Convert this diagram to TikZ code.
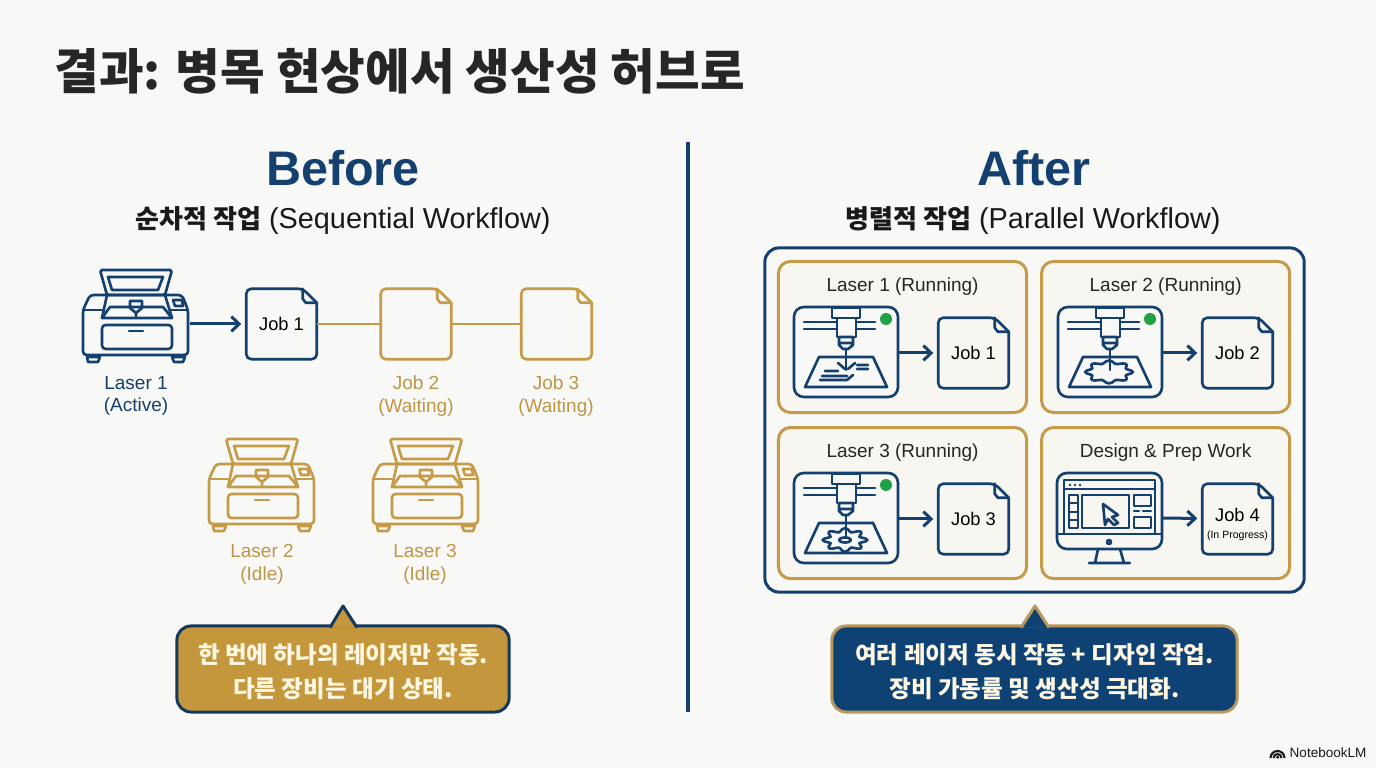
\documentclass[tikz,border=0pt]{standalone}
\usepackage{fontspec}
\setmainfont{Liberation Sans}
\newfontfamily\krfont{Noto Sans CJK KR}
\usetikzlibrary{arrows.meta, positioning, calc}
\definecolor{pagebg}{RGB}{248, 248, 246}
\definecolor{shopnavy}{RGB}{20, 64, 111}
\definecolor{shopgold}{RGB}{198, 155, 72}
\definecolor{goldtext}{RGB}{190, 150, 72}
\definecolor{cardbg}{RGB}{247, 246, 241}
\definecolor{bubblegold}{RGB}{197, 151, 60}
\definecolor{bubblenavy}{RGB}{14, 66, 117}
\definecolor{bubbleedge}{RGB}{20, 57, 92}
\definecolor{bubbletrim}{RGB}{186, 152, 92}
\definecolor{bubbletext}{RGB}{255, 247, 226}
\definecolor{lampgreen}{RGB}{34, 160, 70}
\definecolor{titleink}{RGB}{38, 38, 38}

\tikzset{
    iconline/.style={line width=0.75pt, line join=round, line cap=round},
    % machine with its lid open
    pics/lasercutter/.style={code={
        \begin{scope}[iconline, draw=#1]
        \draw[rounded corners=0.5pt] (-36,-45) -- (36,-45) -- (29,-20) -- (-29,-20) -- cycle;
        \draw (-28,-38) -- (27,-38) -- (22,-25) -- (-24,-25) -- cycle;
        \draw[rounded corners=1pt] (-53,-5) -- (-46,-20) -- (46,-20) -- (52,-5) -- (52,40) -- (-53,40) -- cycle;
        \draw (-53,-5) -- (-34,-5) (35,-5) -- (52,-5);
        \draw (-34,3) -- (-26,-8) -- (27,-8) -- (36,3) -- cycle;
        \draw (-34,3) -- (-29,-20) (36,3) -- (29,-20);
        \draw (-6,-14) -- (6,-14) -- (6,-7) -- (0,-2) -- (-6,-7) -- cycle (0,-2) -- (0,1);
        \draw (37,-15) -- (46,-15) -- (47,-9) -- (39,-9) -- cycle;
        \draw[rounded corners=1pt] (-34,10) rectangle (36,34);
        \draw (-7,16) -- (7,16);
        \draw (-49,42) -- (-36,42) -- (-38,47) -- (-48,47) -- cycle;
        \draw (36,42) -- (49,42) -- (47,47) -- (38,47) -- cycle;
        \end{scope}
        \coordinate (-out) at (54,9);
    }},
    % head over the bed, the work on the bed comes from the pics below
    pics/cutterhead/.style={code={
        \begin{scope}[iconline, draw=shopnavy]
        \draw[rounded corners=2.8pt, fill=pagebg] (-52,-45) rectangle (52,45);
        \draw (-14,-44) rectangle (14,-34);
        \draw (-9,-34) rectangle (10,-15);
        \draw (-42,-30) -- (-9,-30) (-42,-23) -- (-9,-23);
        \draw (10,-30) -- (29,-30) (10,-23) -- (29,-23);
        \draw (-7,-15) -- (7,-15) -- (7,-7) -- (2,-3) -- (-3,-3) -- (-7,-7) -- cycle (-7,-9) -- (7,-9);
        \draw (-27,5) -- (27,5) -- (41,35) -- (-41,35) -- cycle;
        \end{scope}
        \fill[lampgreen] (40,-33) circle (6);
        \coordinate (-out) at (52,1);
    }},
    pics/worksketch/.style={code={
        \draw[iconline, shopnavy] (-21,19) -- (-8,19) (-24,24) -- (1,24) (-26,28) -- (1,28) -- (7,23);
        \draw[iconline, shopnavy] (11,13) -- (22,13) (11,17) -- (22,17) (-8,11) -- (-1,17) (9,11) -- (2,17);
        \draw[iconline, shopnavy] (0,-3) -- (0,18);
    }},
    pics/workblob/.style={code={
        \draw[iconline, shopnavy] plot[smooth cycle, domain=0:352.5, samples=48]
            ({-1+21*(1+.14*cos(8*\x))*cos(\x)}, {20+10*(1+.14*cos(8*\x))*sin(\x)});
        \draw[iconline, shopnavy] (0,-3) -- (0,18);
    }},
    pics/workgear/.style={code={
        \draw[iconline, shopnavy] plot[smooth cycle, domain=0:352.5, samples=48]
            ({-1+19*(1+.18*cos(8*\x))*cos(\x)}, {22+10*(1+.18*cos(8*\x))*sin(\x)});
        \draw[iconline, shopnavy] (-1,22) ellipse (6 and 2.5);
        \draw[iconline, shopnavy] (0,-3) -- (0,20);
    }},
    pics/designscreen/.style={code={
        \begin{scope}[iconline, draw=shopnavy]
        \draw[rounded corners=2.8pt] (-53,-45) rectangle (52,31);
        \draw (-53,16) -- (52,16);
        \draw (-46,-38) rectangle (45,16);
        \draw (-46,-29) -- (45,-29);
        \draw (-41,-23) rectangle (-32,10);
        \draw (-41,-15) -- (-32,-15) (-41,-6) -- (-32,-6) (-41,2) -- (-32,2);
        \draw (-28,-23) rectangle (19,10);
        \draw (24,-23) rectangle (41,-12);
        \draw (24,-7) -- (29,-7) (33,-7) -- (41,-7);
        \draw (24,-1) rectangle (41,10);
        \draw (-7,-14) -- (8,-3) -- (2,-1) -- (8,5) -- (4,7) -- (-2,1) -- (-5,7) -- cycle;
        \draw (-12,31) -- (-15,45) (10,31) -- (14,45) (-21,45) -- (20,45);
        \draw (-1,24) circle (2);
        \end{scope}
        \fill[shopnavy] (-40,-33) circle (1.4) (-35,-33) circle (1.4) (-30,-33) circle (1.4);
        \coordinate (-out) at (52,0);
    }},
    jobdoc/.style={minimum width=0.69cm, minimum height=0.69cm, inner sep=0pt, align=center,
        font=\fontsize{5.2}{6.4}\selectfont,
        append after command={\pgfextra{
            \draw[iconline, draw=#1, rounded corners=1.4pt]
                (\tikzlastnode.north west) -- ($(\tikzlastnode.north east)+(-14,0)$)
                [sharp corners] -- ($(\tikzlastnode.north east)+(0,14)$)
                [rounded corners=1.4pt] -- (\tikzlastnode.south east) -- (\tikzlastnode.south west) -- cycle;
            \draw[iconline, draw=#1] ($(\tikzlastnode.north east)+(-14,0)$) -- ($(\tikzlastnode.north east)+(-14,10)$)
                -- ($(\tikzlastnode.north east)+(-11,14)$) -- ($(\tikzlastnode.north east)+(0,14)$);
        }}},
    card/.style={rectangle, rounded corners=3.4pt, draw=shopgold, fill=cardbg, line width=0.85pt,
        minimum width=2.48cm, minimum height=1.51cm, inner sep=0pt},
    cardtitle/.style={font=\fontsize{5.4}{6.4}\selectfont, text=black!85},
    tag/.style={align=center, font=\fontsize{5.4}{6.5}\selectfont},
    subhead/.style={font=\fontsize{8.2}{10}\selectfont, text=black!90},
    flow/.style={-{Straight Barb[length=2.2pt, width=4.2pt]}, line width=0.85pt, draw=shopnavy, shorten >=0.05cm},
    bubble/.style={rectangle, rounded corners=4pt, line width=0.85pt, line join=round, inner sep=0pt,
        minimum height=0.86cm, align=center, text=bubbletext,
        font=\krfont\bfseries\fontsize{6.7}{9.4}\selectfont},
    bubbletip/.style={line width=0.85pt, line join=round},
}

\begin{document}
\begin{tikzpicture}[x=0.01cm, y=-0.01cm]

\fill[pagebg] (0,0) rectangle (1376,768);
\useasboundingbox (0,0) rectangle (1376,768);

% Title
\node[anchor=west, inner sep=0pt, text=titleink, font=\krfont\bfseries\fontsize{13.8}{16}\selectfont]
    (pagetitle) at (54,71) {결과: 병목 현상에서 생산성 허브로};

% Divider
\node[inner sep=0pt, minimum size=0pt] (dividertop) at (688,141) {};
\node[inner sep=0pt, minimum size=0pt] (dividerbot) at (688,713) {};
\draw[shopnavy, line width=1.3pt] (dividertop) -- (dividerbot);

% Before side
\node[text=shopnavy, font=\bfseries\fontsize{13.8}{16}\selectfont] (beforehead) at (343,168) {Before};
\node[subhead] (beforesub) at (343,221)
    {{\krfont\bfseries\fontsize{7.4}{10}\selectfont 순차적 작업} (Sequential Workflow)};

\pic (laseractive) at (136,315) {lasercutter=shopnavy};
\node[jobdoc=shopnavy] (job1) at (281.5,324) {Job 1};
\node[jobdoc=shopgold, right=0.64cm of job1] (job2) {};
\node[jobdoc=shopgold, right=0.70cm of job2] (job3) {};

\draw[flow] (laseractive-out) -- (job1);
\draw[shopgold, line width=0.6pt] (job1) -- (job2);
\draw[shopgold, line width=0.6pt] (job2) -- (job3);

\node[tag, text=shopnavy] (activetag) at (136,396) {Laser 1\\(Active)};
\node[tag, text=goldtext] (job2tag) at (416,396) {Job 2\\(Waiting)};
\node[tag, text=goldtext] (job3tag) at (556,396) {Job 3\\(Waiting)};

\pic (laseridle2) at (262,484) {lasercutter=shopgold};
\pic (laseridle3) at (426,484) {lasercutter=shopgold};
\node[tag, text=goldtext] (idle2tag) at (262,564.5) {Laser 2\\(Idle)};
\node[tag, text=goldtext] (idle3tag) at (425,564.5) {Laser 3\\(Idle)};

\node[bubble, draw=bubbleedge, fill=bubblegold, minimum width=3.32cm] (beforenote) at (343,669)
    {\rule{0pt}{7.2pt}한 번에 하나의 레이저만 작동.\\다른 장비는 대기 상태.};
\draw[bubbletip, draw=bubbleedge, fill=bubblegold] (330,627.6) -- (343,606) -- (357,627.6);

% After side
\node[text=shopnavy, font=\bfseries\fontsize{13.8}{16}\selectfont] (afterhead) at (1034,168) {After};
\node[subhead] (aftersub) at (1033,221)
    {{\krfont\bfseries\fontsize{7.4}{10}\selectfont 병렬적 작업} (Parallel Workflow)};

\node[rectangle, rounded corners=4pt, draw=shopnavy, line width=0.85pt, minimum width=5.39cm,
    minimum height=3.44cm] (panel) at (1034.5,420) {};

\node[card] (card1) at (902.5,337) {};
\node[card, right=0.12cm of card1] (card2) {};
\node[card, below=0.12cm of card1] (card3) {};
\node[card, right=0.12cm of card3] (card4) {};

\node[cardtitle, below=0.055cm of card1.north] (title1) {Laser 1 (Running)};
\node[cardtitle, below=0.055cm of card2.north] (title2) {Laser 2 (Running)};
\node[cardtitle, below=0.055cm of card3.north] (title3) {Laser 3 (Running)};
\node[cardtitle, below=0.055cm of card4.north] (title4) {Design \& Prep Work};

\pic (cutter1) at (846,352) {cutterhead};
\pic at (846,352) {worksketch};
\pic (cutter2) at (1110,352) {cutterhead};
\pic at (1110,352) {workblob};
\pic (cutter3) at (846,518) {cutterhead};
\pic at (846,518) {workgear};
\pic (screen4) at (1110,518) {designscreen};

\node[jobdoc=shopnavy] (run1) at (973.5,353) {Job 1};
\node[jobdoc=shopnavy] (run2) at (1237.5,353) {Job 2};
\node[jobdoc=shopnavy] (run3) at (973.5,519) {Job 3};
\node[jobdoc=shopnavy] (run4) at (1237.5,519) {\rule{0pt}{7.1pt}Job 4\\[-1.5pt]{\fontsize{3}{3.6}\selectfont (In Progress)}};

\draw[flow] (cutter1-out) -- (run1);
\draw[flow] (cutter2-out) -- (run2);
\draw[flow] (cutter3-out) -- (run3);
\draw[flow] (screen4-out) -- (run4);

\node[bubble, draw=bubbletrim, fill=bubblenavy, minimum width=4.05cm] (afternote) at (1034.5,669)
    {\rule{0pt}{7.2pt}여러 레이저 동시 작동 + 디자인 작업.\\장비 가동률 및 생산성 극대화.};
\draw[bubbletip, draw=bubbletrim, fill=bubblenavy] (1021,627.6) -- (1035,606) -- (1049,627.6);

% Mark in the corner
\draw[line width=0.6pt, black!90] (1270.5,758) arc[start angle=180, end angle=360, radius=7];
\draw[line width=0.6pt, black!90] (1273.5,758) arc[start angle=180, end angle=360, radius=4];
\draw[line width=0.6pt, black!90] (1276.5,758) arc[start angle=180, end angle=360, radius=1];
\node[anchor=west, inner sep=0pt, font=\fontsize{3.85}{5}\selectfont, text=black!90] (brandname) at (1289,753) {NotebookLM};

\end{tikzpicture}
\end{document}
